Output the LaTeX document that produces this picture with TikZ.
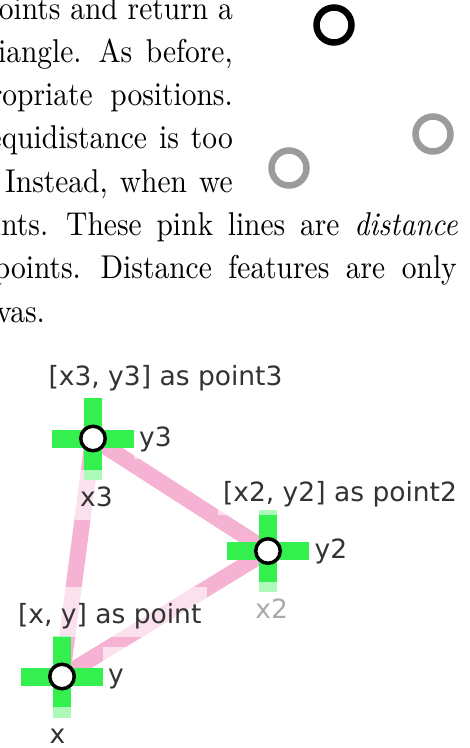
\documentclass[tikz,border=0pt]{standalone}
\usepackage{fontspec}
\newfontfamily\labelfont{DejaVu Sans}
\definecolor{crossgreen}{HTML}{33F04F}
\definecolor{distpink}{HTML}{F5B2D2}
\definecolor{labelgrey}{HTML}{333333}
\definecolor{hintgrey}{HTML}{AAAAAA}
\definecolor{ghostgrey}{HTML}{9B9B9B}
\newcommand{\prose}[2][3.33pt]{\scalebox{2.95}[3.3]{\spaceskip=#1\relax #2}}
\begin{document}
\begin{tikzpicture}[
		x=1pt, y=-1pt,
		prose/.style={inner sep=0pt, anchor=base east},
		ring/.style={circle, draw=#1, line width=6.5pt, minimum size=35pt, inner sep=0pt},
		dist/.style={draw=distpink, line width=16pt},
		bar/.style={draw=crossgreen, line width=18pt},
		lbl/.style={font=\labelfont\fontsize{26.5}{30}\selectfont, text=labelgrey,
			fill=white, fill opacity=0.6, text opacity=1,
			inner xsep=5.5pt, inner ysep=6pt, text height=30.7pt, text depth=7.3pt},
		handle/.style={circle, draw=black, fill=white, line width=3.5pt, minimum size=24.5pt, inner sep=0pt}
	]
	\useasboundingbox (0,0) rectangle (470,748);
	\clip (0,0) rectangle (470,748);
	% text of the page around the figure
	\node[prose] (l1) at (233,19) {\prose{points and return a}};
	\node[prose] (l2) at (233,62.3) {\prose[4.6pt]{triangle. As before,}};
	\node[prose] (l3) at (233,105.6) {\prose[6pt]{appropriate positions.}};
	\node[prose] (l4) at (233,148.9) {\prose[4.1pt]{equidistance is too}};
	\node[prose] (l5) at (233,192.2) {\prose[4.1pt]{strict. Instead, when we}};
	\node[prose] (l6) at (458,235.5) {\prose[5pt]{points. These pink lines are \emph{distance}}};
	\node[prose] (l7) at (457,278.8) {\prose[5.6pt]{points. Distance features are only}};
	\node[prose] (l8) at (45,322.1) {\prose{canvas.}};
	\node[ring=black] (q0) at (334,25) {};
	\node[ring=ghostgrey] (q1) at (433,134) {};
	\node[ring=ghostgrey] (q2) at (289,168) {};
	% the triangle
	\coordinate (c1) at (62,676.5);
	\coordinate (c2) at (268,551);
	\coordinate (c3) at (93,438.5);
	\draw[dist] (c1) -- (c2);
	\draw[dist] (c2) -- (c3);
	\draw[dist] (c3) -- (c1);
	\foreach \p in {c1,c2,c3}
		\draw[bar] (\p) ++(-41,0) -- ++(82,0) (\p) ++(0,-41) -- ++(0,82);
	\node[lbl, anchor=base] (t3) at (165.5,385) {[x3, y3] as point3};
	\node[lbl, anchor=base west] (y3) at (133.5,446) {y3};
	\node[lbl, anchor=base] (x3) at (96.5,506.7) {x3};
	\node[lbl, anchor=base] (t2) at (340,501.7) {[x2, y2] as point2};
	\node[lbl, anchor=base west] (y2) at (309,558.3) {y2};
	\node[lbl, anchor=base, text=hintgrey] (x2) at (271.7,618.3) {x2};
	\node[lbl, anchor=base] (t1) at (109.7,623.3) {[x, y] as point};
	\node[lbl, anchor=base west] (y1) at (102.5,683.3) {y};
	\node[lbl, anchor=base] (x1) at (57.5,743.3) {x};
	\node[handle] (p1) at (c1) {};
	\node[handle] (p2) at (c2) {};
	\node[handle] (p3) at (c3) {};
\end{tikzpicture}
\end{document}
